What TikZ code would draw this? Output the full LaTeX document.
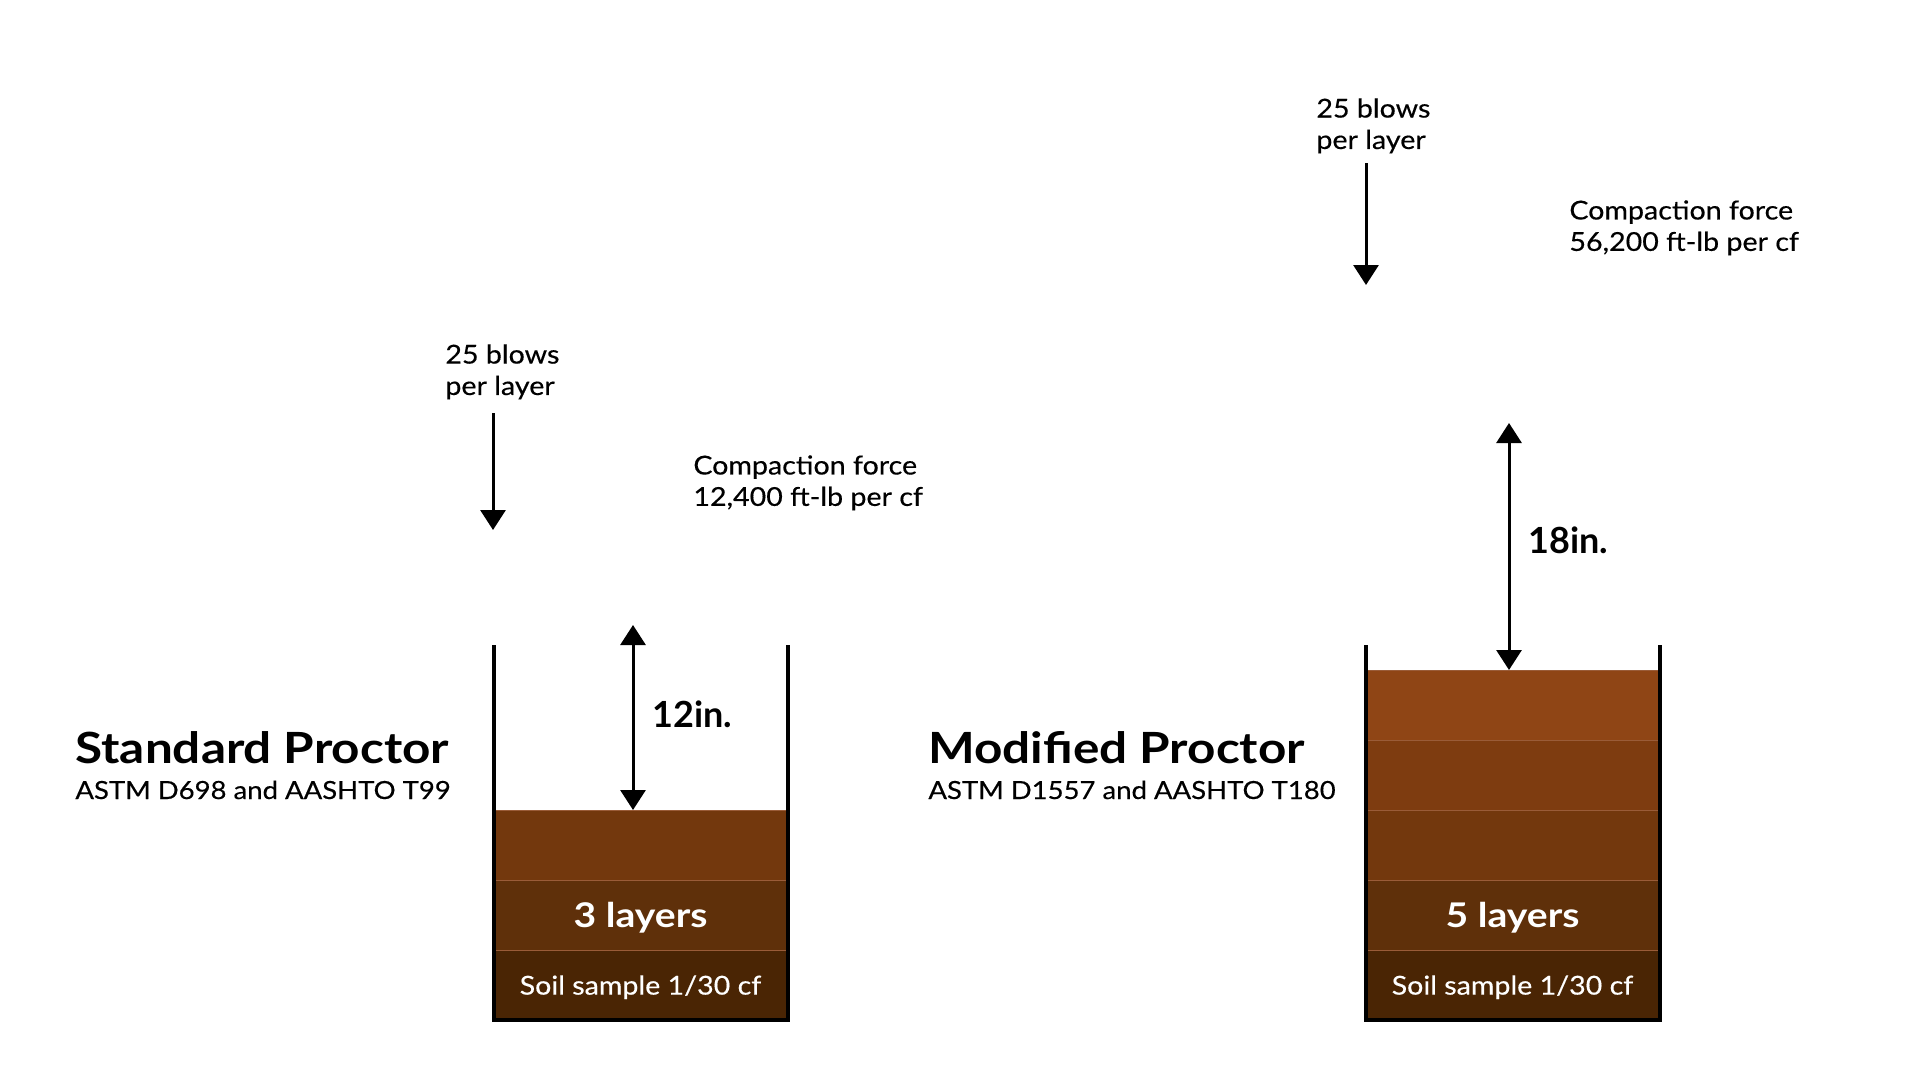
\documentclass[tikz,border=0pt]{standalone}
\usepackage{fontspec}
\setmainfont{Lato}
\newfontfamily\notefont[FakeStretch=1.1,FakeBold=0.4]{Lato}
\newfontfamily\headfont[FakeStretch=1.15]{Lato}
\usetikzlibrary{arrows.meta,positioning}
\definecolor{soilA}{HTML}{8F4515}
\definecolor{soilB}{HTML}{7E3C10}
\definecolor{soilC}{HTML}{73380D}
\definecolor{soilD}{HTML}{5F300A}
\definecolor{soilE}{HTML}{4A2504}
\definecolor{seam}{HTML}{9A5C38}
\begin{document}
\begin{tikzpicture}[x=0.5pt,y=-0.5pt,
    wall/.style={line width=2pt,line join=miter},
    blow/.style={line width=1.5pt,-{Triangle[width=12.5pt,length=10pt]}},
    gap/.style={line width=1.5pt,{Triangle[width=12.5pt,length=10pt]}-{Triangle[width=12.5pt,length=10pt]}},
    layer/.style={rectangle,minimum width=147pt,minimum height=35pt,inner sep=0pt,outer sep=0pt,draw=seam,line width=0.5pt,text=white},
    note/.style={anchor=north west,inner sep=0pt,align=left,font=\notefont\fontsize{13}{15.7}\selectfont},
    title/.style={anchor=base west,inner sep=0pt,font=\headfont\bfseries\fontsize{21.5}{24}\selectfont},
    norm/.style={anchor=base west,inner sep=0pt,font=\notefont\fontsize{12.5}{15}\selectfont},
    gaplbl/.style={anchor=base west,inner sep=0pt,font=\bfseries\fontsize{18}{22}\selectfont},
    count/.style={text depth=0pt,font=\headfont\bfseries\fontsize{17}{20}\selectfont},
    sample/.style={text depth=0pt,font=\notefont\fontsize{13}{15}\selectfont}]
\useasboundingbox (0,0) rectangle (1921,1081);
% standard proctor
\node[title] (stdTitle) at (75,763) {Standard Proctor};
\node[norm] (stdNorm) at ([yshift=-18pt]stdTitle.base west) {ASTM D698 and AASHTO T99};
\node[note] (stdBlows) at (445,344) {25 blows\\per layer};
\node[note] (stdForce) at (693,455) {Compaction force\\12,400 ft-lb per cf};
\node[layer,fill=soilE,sample] (stdL1) at (640.5,985) {Soil sample 1/30 cf};
\node[layer,fill=soilD,above=0pt of stdL1,count] (stdL2) {3 layers};
\node[layer,fill=soilC,above=0pt of stdL2] (stdL3) {};
\draw[wall] ([yshift=82.5pt]stdL3.north west) |- (stdL1.south) -| ([yshift=82.5pt]stdL3.north east); % cup
\coordinate (stdBlowTop) at (493,413);
\coordinate (stdBlowEnd) at (493,530);
\draw[blow] (stdBlowTop) -- (stdBlowEnd);
\coordinate (stdDrop) at (633,625);
\draw[gap] (stdDrop) -- (stdDrop |- stdL3.north);
\node[gaplbl] (stdGapLbl) at (652,727) {12in.};
% modified proctor
\node[title] (modTitle) at (928,763) {Modified Proctor};
\node[norm] (modNorm) at ([yshift=-18pt]modTitle.base west) {ASTM D1557 and AASHTO T180};
\node[note] (modBlows) at (1316,98) {25 blows\\per layer};
\node[note] (modForce) at (1569,200) {Compaction force\\56,200 ft-lb per cf};
\node[layer,fill=soilE,sample] (modL1) at (1512.5,985) {Soil sample 1/30 cf};
\node[layer,fill=soilD,above=0pt of modL1,count] (modL2) {5 layers};
\node[layer,fill=soilC,above=0pt of modL2] (modL3) {};
\node[layer,fill=soilB,above=0pt of modL3] (modL4) {};
\node[layer,fill=soilA,above=0pt of modL4] (modL5) {};
\draw[wall] ([yshift=12.5pt]modL5.north west) |- (modL1.south) -| ([yshift=12.5pt]modL5.north east); % cup
\coordinate (modBlowTop) at (1366,163);
\coordinate (modBlowEnd) at (1366,285);
\draw[blow] (modBlowTop) -- (modBlowEnd);
\coordinate (modDrop) at (1509,423);
\draw[gap] (modDrop) -- (modDrop |- modL5.north);
\node[gaplbl] (modGapLbl) at (1528,553) {18in.};
\end{tikzpicture}
\end{document}
